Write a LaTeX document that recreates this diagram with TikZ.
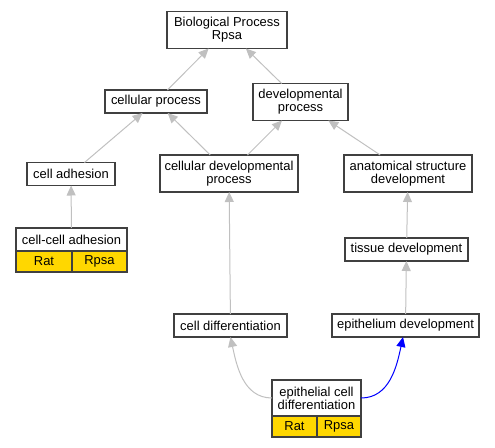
\documentclass[tikz,border=0pt]{standalone}
\usepackage{fontspec}
\setmainfont{Liberation Sans}
\usetikzlibrary{
  positioning,
  calc,
  arrows.meta}
\definecolor{framecolor}{RGB}{64,64,64}
\definecolor{isacolor}{RGB}{192,192,192}
\definecolor{genecolor}{RGB}{255,215,0}
\definecolor{regcolor}{RGB}{0,0,255}
\tikzset{
  %% term : a GO term
  term/.style={
    rectangle,
    draw=framecolor,
    line width=1.2bp,
    fill=white,
    minimum height=23bp,
    inner xsep=3.5bp,
    inner ysep=0pt,
    outer sep=0pt,
    align=center,
    font=\fontsize{13}{13}\selectfont
  },
  %% twoline : a term with a label on two lines
  twoline/.style={
    term,
    minimum height=37bp
  },
  %% gene : one cell of the annotation row
  gene/.style={
    rectangle,
    draw=framecolor,
    line width=1.2bp,
    fill=genecolor,
    minimum height=21bp,
    inner sep=0pt,
    outer sep=0pt,
    anchor=north west,
    font=\fontsize{13}{13}\selectfont
  },
  %% isa : is_a relation
  isa/.style={
    isacolor,
    line width=1bp,
    -{Triangle[length=10bp,width=9bp]}
  },
  %% partof : part_of relation
  partof/.style={
    isa,
    regcolor
  }
}
\begin{document}
\begin{tikzpicture}
  [x=1bp,
  y=-1bp]

  \useasboundingbox (0,0) rectangle (495,448);

  %% Terms
  \node (bioproc) [twoline, minimum width=120bp] at (227,30) {%
    Biological Process\\ Rpsa};

  \node (cellproc) [term, minimum width=102bp] at (156,101.5) {cellular process};
  \node (devproc) [twoline, minimum width=95bp] at (300.5,102) {%
    developmental\\ process};

  \node (celladh) [term, minimum width=88bp] at (71,174) {cell adhesion};
  \node (celldev) [twoline, minimum width=138bp] at (229,173.5) {%
    cellular developmental\\ process};
  \node (anatdev) [twoline, minimum width=128bp] at (408,173.5) {%
    anatomical structure\\ development};

  \node (tissuedev) [term, minimum width=123bp] at (406.5,249.5) {tissue development};
  \node (celldiff) [term, minimum width=113bp] at (230.5,325.5) {cell differentiation};
  \node (epidev) [term, minimum width=147bp] at (405.5,325.5) {epithelium development};

  %% Annotated terms
  \node (ccadh) [term, minimum width=111bp] at (71.5,239.5) {%
    cell-cell adhesion};
  \node (ccadh-rat) [gene, minimum width=56bp] at (ccadh.south west) {Rat};
  \node (ccadh-rpsa) [gene, minimum width=55bp] at (ccadh-rat.north east) {Rpsa};

  \node (epicell) [twoline, minimum width=89bp, minimum height=36bp] at (316.5,398) {%
    epithelial cell\\ differentiation};
  \node (epicell-rat) [gene, minimum width=45bp] at (epicell.south west) {Rat};
  \node (epicell-rpsa) [gene, minimum width=44bp] at (epicell-rat.north east) {Rpsa};

  %% Connections
  \draw [isa] (cellproc) -- (bioproc);
  \draw [isa] (devproc) -- (bioproc);
  \draw [isa] (celladh) -- (cellproc);
  \draw [isa] (celldev) -- (cellproc);
  \draw [isa] (celldev) -- (devproc);
  \draw [isa] (anatdev) -- (devproc);
  \draw [isa] (ccadh) -- (celladh);
  \draw [isa] (celldiff) -- (celldev);
  \draw [isa] (tissuedev) -- (anatdev);
  \draw [isa] (epidev) -- (tissuedev);
  \draw [isa] (epicell.west) to[out=180, in=-78] (celldiff.south);
  \draw [partof] (epicell.east) to[out=0, in=-102] ($(epidev.south)-(2.5,0)$);

\end{tikzpicture}
\end{document}
